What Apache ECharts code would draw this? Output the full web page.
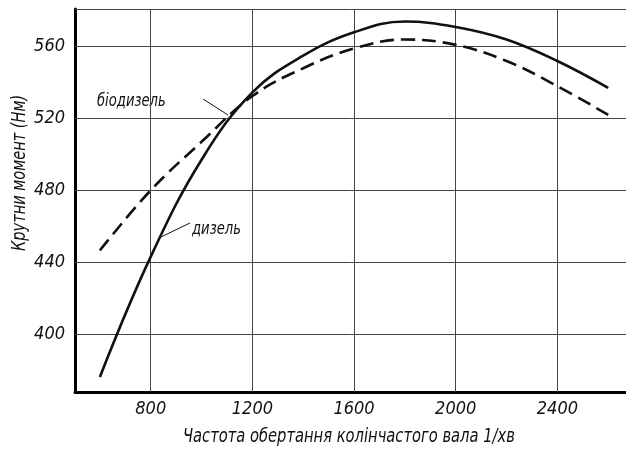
<!DOCTYPE html>
<html>
<head>
<meta charset="utf-8">
<script src="https://cdn.jsdelivr.net/npm/echarts@6/dist/echarts.min.js"></script>
<style>
  html, body { margin: 0; padding: 0; background: #fff; }
  #main { width: 626px; height: 452px; }
</style>
</head>
<body>
<div id="main"></div>
<script>
// оберти, 1/хв
var rpm = [600, 800, 1000, 1200, 1400, 1600, 1800, 2000, 2200, 2400, 2600];
// крутний момент, Нм
var dieselTorque    = [376, 443, 497, 534.5, 555, 568, 574, 571, 564, 552, 537];
var biodieselTorque = [446.5, 480, 507, 532.5, 548, 559, 564, 561, 552, 538, 522];
var xTicks = [800, 1200, 1600, 2000, 2400];
var yTicks = [400, 440, 480, 520, 560];

var font = '"DejaVu Sans Condensed", "DejaVu Sans", sans-serif';
var chart = echarts.init(document.getElementById('main'));

function pairs(ys) {
  return rpm.map(function (x, i) { return [x, ys[i]]; });
}

var gridLines = xTicks.map(function (v) { return { xAxis: v }; })
  .concat(yTicks.map(function (v) { return { yAxis: v }; }))
  .concat([{ yAxis: 581 }]);

var labelStyle = {
  color: '#111',
  fontFamily: font,
  fontStyle: 'italic',
  fontSize: 18,
  formatter: function (v) { return String(v); }
};

// підписи вузьким шрифтом: стискаємо по ширині
function txt(text, x, y, size, extra) {
  return Object.assign({
    type: 'text', x: x, y: y, scaleX: 0.86, scaleY: 1.05,
    style: { text: text, font: 'italic ' + size + 'px "DejaVu Sans Condensed"', fill: '#111', textVerticalAlign: 'middle' }
  }, extra || {});
}

var option = {
  animation: false,
  grid: { left: 75, right: 0, top: 9, bottom: 60 },
  xAxis: {
    type: 'value',
    min: 502,
    max: 2670,
    axisLine: { lineStyle: { color: '#000', width: 3 } },
    axisTick: { show: false },
    splitLine: { show: false },
    axisLabel: Object.assign({ customValues: xTicks, margin: 8 }, labelStyle)
  },
  yAxis: {
    type: 'value',
    min: 367.6,
    max: 581,
    axisLine: { show: true, lineStyle: { color: '#000', width: 3 } },
    axisTick: { show: false },
    splitLine: { show: false },
    axisLabel: Object.assign({ customValues: yTicks, margin: 10 }, labelStyle)
  },
  graphic: [
    txt('Частота обертання колінчастого вала 1/хв', 183, 437, 19),
    Object.assign(txt('Крутни момент (Нм)', 20, 251, 18), { rotation: Math.PI / 2, scaleX: 0.9, scaleY: 1.05 }),
    txt('біодизель', 97, 101, 17),
    { type: 'line', shape: { x1: 203, y1: 99, x2: 228, y2: 115 }, style: { stroke: '#111', lineWidth: 1 } },
    txt('дизель', 192, 229, 17),
    { type: 'line', shape: { x1: 190, y1: 223, x2: 161, y2: 237 }, style: { stroke: '#111', lineWidth: 1 } }
  ],
  series: [
    {
      name: 'дизель',
      type: 'line',
      smooth: 0.4,
      showSymbol: false,
      data: pairs(dieselTorque),
      lineStyle: { color: '#111', width: 2.6 },
      z: 3,
      markLine: {
        silent: true,
        symbol: 'none',
        label: { show: false },
        lineStyle: { color: '#444', width: 1, type: 'solid' },
        data: gridLines,
        z: 1
      }
    },
    {
      name: 'біодизель',
      type: 'line',
      smooth: 0.4,
      showSymbol: false,
      data: pairs(biodieselTorque),
      lineStyle: { color: '#111', width: 2.6, type: [14, 7] },
      z: 3
    }
  ]
};
chart.setOption(option);
</script>
</body>
</html>
